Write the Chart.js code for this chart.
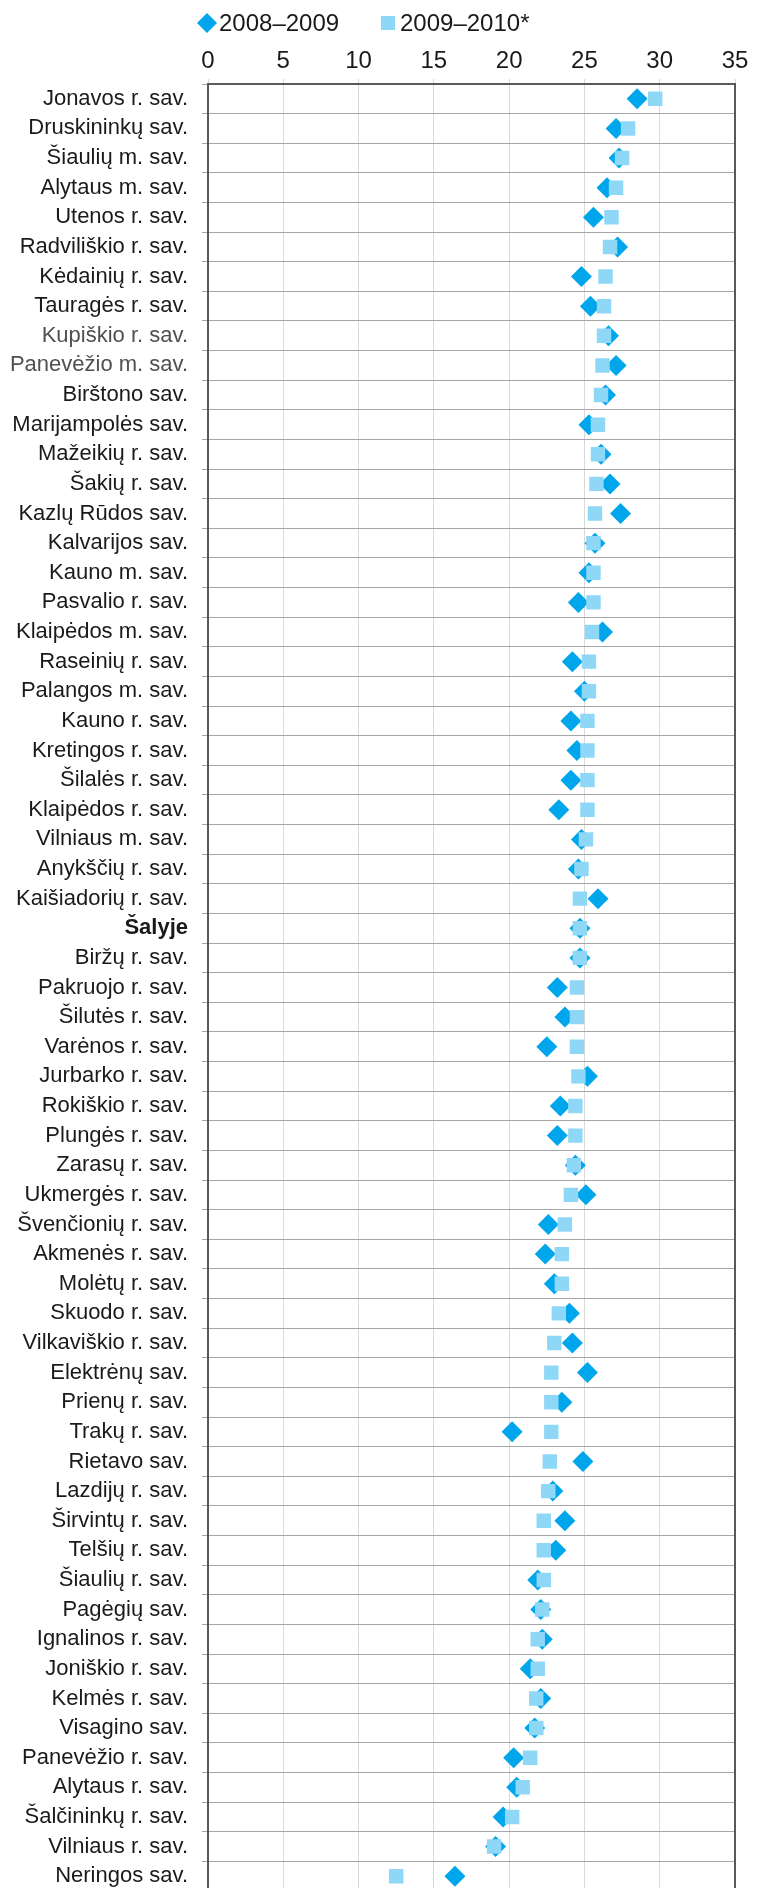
<!DOCTYPE html>
<html>
<head>
<meta charset="utf-8">
<script src="https://cdn.jsdelivr.net/npm/chart.js@4.4.1/dist/chart.umd.min.js"></script>
<style>
  html, body { margin: 0; padding: 0; background: #fff; overflow: hidden; }
  canvas { display: block; }
</style>
</head>
<body>
<canvas id="c" width="766" height="1900" style="width:766px;height:1900px"></canvas>
<script>
var categories = [
  "Jonavos r. sav.", "Druskininkų sav.", "Šiaulių m. sav.", "Alytaus m. sav.", "Utenos r. sav.",
  "Radviliškio r. sav.", "Kėdainių r. sav.", "Tauragės r. sav.", "Kupiškio r. sav.", "Panevėžio m. sav.",
  "Birštono sav.", "Marijampolės sav.", "Mažeikių r. sav.", "Šakių r. sav.", "Kazlų Rūdos sav.",
  "Kalvarijos sav.", "Kauno m. sav.", "Pasvalio r. sav.", "Klaipėdos m. sav.", "Raseinių r. sav.",
  "Palangos m. sav.", "Kauno r. sav.", "Kretingos r. sav.", "Šilalės r. sav.", "Klaipėdos r. sav.",
  "Vilniaus m. sav.", "Anykščių r. sav.", "Kaišiadorių r. sav.", "Šalyje", "Biržų r. sav.",
  "Pakruojo r. sav.", "Šilutės r. sav.", "Varėnos r. sav.", "Jurbarko r. sav.", "Rokiškio r. sav.",
  "Plungės r. sav.", "Zarasų r. sav.", "Ukmergės r. sav.", "Švenčionių r. sav.", "Akmenės r. sav.",
  "Molėtų r. sav.", "Skuodo r. sav.", "Vilkaviškio r. sav.", "Elektrėnų sav.", "Prienų r. sav.",
  "Trakų r. sav.", "Rietavo sav.", "Lazdijų r. sav.", "Širvintų r. sav.", "Telšių r. sav.",
  "Šiaulių r. sav.", "Pagėgių sav.", "Ignalinos r. sav.", "Joniškio r. sav.", "Kelmės r. sav.",
  "Visagino sav.", "Panevėžio r. sav.", "Alytaus r. sav.", "Šalčininkų r. sav.", "Vilniaus r. sav.",
  "Neringos sav."
];

var values0809 = [
  28.5, 27.1, 27.3, 26.5, 25.6, 27.2, 24.8, 25.4, 26.6, 27.1,
  26.4, 25.3, 26.1, 26.7, 27.4, 25.7, 25.3, 24.6, 26.2, 24.2,
  25.0, 24.1, 24.5, 24.1, 23.3, 24.8, 24.6, 25.9, 24.7, 24.7,
  23.2, 23.7, 22.5, 25.2, 23.4, 23.2, 24.4, 25.1, 22.6, 22.4,
  23.0, 24.0, 24.2, 25.2, 23.5, 20.2, 24.9, 22.9, 23.7, 23.1,
  21.9, 22.1, 22.2, 21.4, 22.1, 21.7, 20.3, 20.5, 19.6, 19.1,
  16.4
];

var values0910 = [
  29.7, 27.9, 27.5, 27.1, 26.8, 26.7, 26.4, 26.3, 26.3, 26.2,
  26.1, 25.9, 25.9, 25.8, 25.7, 25.6, 25.6, 25.6, 25.5, 25.3,
  25.3, 25.2, 25.2, 25.2, 25.2, 25.1, 24.8, 24.7, 24.7, 24.7,
  24.5, 24.5, 24.5, 24.6, 24.4, 24.4, 24.3, 24.1, 23.7, 23.5,
  23.5, 23.3, 23.0, 22.8, 22.8, 22.8, 22.7, 22.6, 22.3, 22.3,
  22.3, 22.2, 21.9, 21.9, 21.8, 21.8, 21.4, 20.9, 20.2, 19.0,
  12.5
];

var seriesLabels = ["2008–2009", "2009–2010*"];
var greyLabels = ["Kupiškio r. sav.", "Panevėžio m. sav."];

var FONT = '"Liberation Sans", Arial, sans-serif';
var DARK = "#00a6eb";
var LIGHT = "#8fd7f7";

// legend drawn by hand so the spacing matches the original
var legendPlugin = {
  id: "handLegend",
  afterDraw: function(chart) {
    var ctx = chart.ctx;
    ctx.save();
    ctx.fillStyle = DARK;
    ctx.beginPath();
    ctx.moveTo(197, 23); ctx.lineTo(207, 13); ctx.lineTo(217, 23); ctx.lineTo(207, 33);
    ctx.closePath();
    ctx.fill();
    ctx.fillStyle = LIGHT;
    ctx.fillRect(381, 16, 14, 14);
    ctx.fillStyle = "#1a1a1a";
    ctx.font = "24px " + FONT;
    ctx.textBaseline = "middle";
    ctx.fillText(seriesLabels[0], 219, 24);
    ctx.fillText(seriesLabels[1], 400, 24);
    ctx.restore();
  }
};

var rightBorder = {
  id: "rightBorder",
  afterDraw: function(chart) {
    var a = chart.chartArea, ctx = chart.ctx;
    ctx.save();
    ctx.strokeStyle = "#595959";
    ctx.lineWidth = 2;
    ctx.beginPath();
    ctx.moveTo(a.right, a.top);
    ctx.lineTo(a.right, a.bottom);
    ctx.stroke();
    ctx.restore();
  }
};

new Chart(document.getElementById("c"), {
  type: "line",
  data: {
    labels: categories,
    datasets: [
      {
        label: seriesLabels[0],
        data: values0809,
        showLine: false,
        pointStyle: "rectRot",
        pointRadius: 10.5,
        pointBorderWidth: 0,
        backgroundColor: DARK,
        borderColor: DARK,
        order: 1
      },
      {
        label: seriesLabels[1],
        data: values0910,
        showLine: false,
        pointStyle: "rect",
        pointRadius: 10.2,
        pointBorderWidth: 0,
        backgroundColor: LIGHT,
        borderColor: LIGHT,
        order: 0
      }
    ]
  },
  options: {
    indexAxis: "y",
    responsive: false,
    animation: false,
    layout: { autoPadding: false, padding: { left: 0, right: 31, top: 0, bottom: 9 } },
    plugins: {
      legend: { display: false },
      tooltip: { enabled: false }
    },
    scales: {
      x: {
        type: "linear",
        position: "top",
        min: 0,
        max: 35,
        ticks: {
          stepSize: 5,
          padding: 3,
          color: "#1a1a1a",
          font: { family: FONT, size: 24 }
        },
        grid: { color: "#d9d9d9", tickLength: 5 },
        border: { color: "#595959", width: 2 },
        afterFit: function(s) { s.height = 84; }
      },
      y: {
        type: "category",
        offset: true,
        grid: { offset: true, color: "#a6a6a6", tickLength: 6 },
        border: { color: "#595959", width: 2 },
        ticks: {
          autoSkip: false,
          padding: 14,
          color: function(c) {
            return greyLabels.indexOf(categories[c.index]) >= 0 ? "#505050" : "#1a1a1a";
          },
          font: function(c) {
            return {
              family: FONT,
              size: 22,
              weight: categories[c.index] === "Šalyje" ? "bold" : "normal"
            };
          }
        },
        afterFit: function(s) {
          s.width = 208;
          // rows run right to the bottom edge, no extra label padding
          s.paddingTop = 0;
          s.paddingBottom = 0;
        }
      }
    }
  },
  plugins: [legendPlugin, rightBorder]
});
</script>
</body>
</html>
